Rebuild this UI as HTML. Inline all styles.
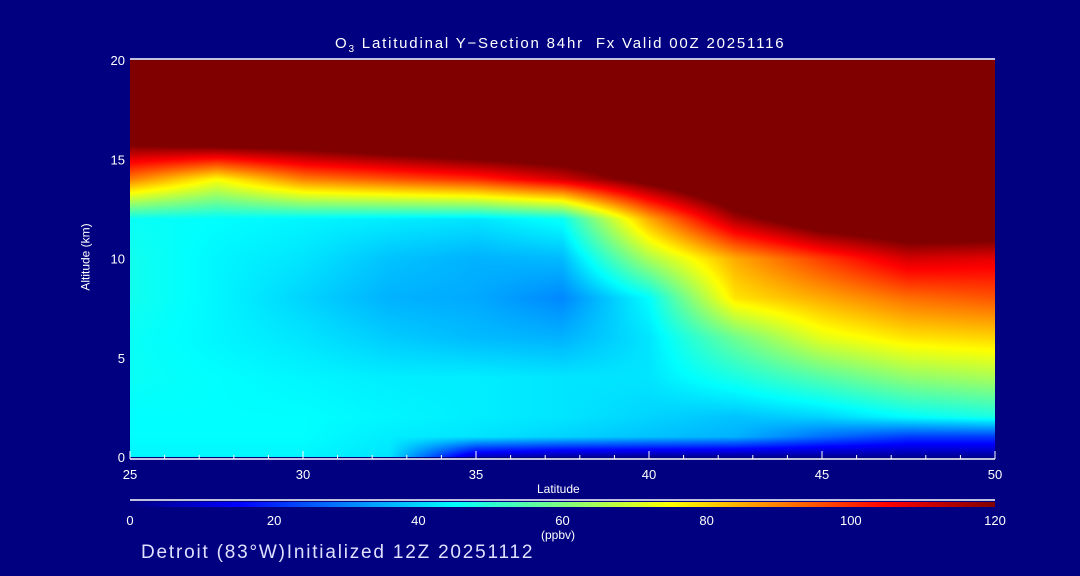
<!DOCTYPE html>
<html><head><meta charset="utf-8"><style>
body{margin:0;background:#000080;width:1080px;height:576px;overflow:hidden;font-family:"Liberation Sans",sans-serif;color:#fff}
.t{position:absolute;white-space:nowrap;font-size:13px;color:#fff}
</style></head><body>
<div class="t" style="left:335px;top:35px;font-size:15px;letter-spacing:1.8px">O<sub style="font-size:10px">3</sub> Latitudinal Y−Section 84hr&nbsp; Fx Valid 00Z 20251116</div>
<canvas id="cv" width="865" height="397" style="position:absolute;left:130px;top:60px"></canvas>
<svg id="ax" width="1080" height="576" style="position:absolute;left:0;top:0"></svg>
<div class="t" style="left:52px;top:250px;transform:rotate(-90deg);font-size:12px">Altitude (km)</div>
<div class="t" style="left:537px;top:482px;font-size:12px">Latitude</div>
<div class="t" style="left:541px;top:528px;font-size:12px">(ppbv)</div>
<div class="t" style="left:141px;top:542px;font-size:19px;color:#e0e0ff;letter-spacing:1.8px">Detroit (83°W)Initialized 12Z 20251112</div>
<script>
const lats=[25,27.5,30,32.5,35,37.5,40,42.5,45,47.5,50];
const alts=[20,18,16,14,12,10,8,6,4,2,1,0];
const o3=[
[140,140,140,140,140,140,140,140,140,140,140],
[140,140,140,140,140,140,140,140,140,140,140],
[125,130,130,135,140,140,140,140,140,140,140],
[90,75,90,95,100,110,125,140,140,140,140],
[46,45,44,43,42,46,85,115,130,135,135],
[47,44,42,38,36,37,65,85,98,110,108],
[47,44,40,36,35,31,45,78,85,92,95],
[46,44,42,39,37,36,42,58,72,78,80],
[46,45,44,43,43,42,42,48,55,62,65],
[45,45,45,44,43,42,40,38,40,45,48],
[45,45,45,43,42,40,38,36,28,22,22],
[44,44,44,42,8,4,3,3,3,3,3]];
const xTicks=[25,30,35,40,45,50];
const yTicks=[0,5,10,15,20];
const cTicks=[0,20,40,60,80,100,120];
const X0=130,X1=995,Y0=457,Y1=60;
const xs=v=>X0+(v-25)/25*(X1-X0);
const ys=v=>Y0-v/20*(Y0-Y1);
function jet(t){t=Math.max(0,Math.min(1,t));
 const f=x=>Math.max(0,Math.min(1,x));
 return [f(Math.min(4*t-1.5,-4*t+4.5)),f(Math.min(4*t-0.5,-4*t+3.5)),f(Math.min(4*t+0.5,-4*t+2.5))].map(c=>Math.round(c*255));}
function interp(arr,v){for(let i=0;i<arr.length-1;i++){const a=arr[i],b=arr[i+1];
 if((v-a)*(v-b)<=0){return i+(v-a)/(b-a);}}return arr.length-1;}
const cv=document.getElementById('cv'),ctx=cv.getContext('2d');
const W=cv.width,H=cv.height,img=ctx.createImageData(W,H);
for(let py=0;py<H;py++){const alt=20-py/(H-1)*20;let fr=interp(alts,alt);let r0=Math.min(Math.floor(fr),alts.length-2),ry=fr-r0;
 for(let px=0;px<W;px++){const lat=25+px/(W-1)*25;let fc=(lat-25)/2.5;let c0=Math.min(Math.floor(fc),lats.length-2),cx=fc-c0;
  const v=(o3[r0][c0]*(1-cx)+o3[r0][c0+1]*cx)*(1-ry)+(o3[r0+1][c0]*(1-cx)+o3[r0+1][c0+1]*cx)*ry;
  const c=jet(v/120);const k=(py*W+px)*4;img.data[k]=c[0];img.data[k+1]=c[1];img.data[k+2]=c[2];img.data[k+3]=255;}}
ctx.putImageData(img,0,0);
const svg=document.getElementById('ax');const NS='http://www.w3.org/2000/svg';
function el(tag,attrs,txt){const e=document.createElementNS(NS,tag);for(const k in attrs)e.setAttribute(k,attrs[k]);if(txt!==undefined)e.textContent=txt;svg.appendChild(e);return e;}
let e;
e=el('line',{x1:X0,y1:Y1-1,x2:X1,y2:Y1-1,stroke:'#fff','stroke-width':1.5});


e=el('line',{x1:X0,y1:Y0+2,x2:X1,y2:Y0+2,stroke:'#fff','stroke-width':1.5});


for(let l=25;l<=50;l++){const maj=(l%5===0);
 e=el('line',{x1:xs(l),y1:Y0+2,x2:xs(l),y2:Y0+2-(maj?8:4),stroke:'#fff','stroke-width':1});
 
 }
xTicks.forEach(v=>{e=el('text',{x:xs(v),y:Y0+22,fill:'#fff','font-size':13,'text-anchor':'middle','font-family':'Liberation Sans'},String(v));
 
 });
yTicks.forEach(v=>{e=el('text',{x:X0-5,y:ys(v)+5,fill:'#fff','font-size':13,'text-anchor':'end','font-family':'Liberation Sans'},String(v));
 
 });
const defs=el('defs',{});const g=document.createElementNS(NS,'linearGradient');g.setAttribute('id','jg');defs.appendChild(g);
for(let i=0;i<=24;i++){const c=jet(i/24);const s=document.createElementNS(NS,'stop');s.setAttribute('offset',(i/24*100)+'%');s.setAttribute('stop-color','rgb('+c.join(',')+')');g.appendChild(s);}
e=el('line',{x1:X0,y1:500,x2:X1,y2:500,stroke:'#fff','stroke-width':1.5});


e=el('rect',{x:X0,y:502,width:X1-X0,height:5,fill:'url(#jg)'});


cTicks.forEach(v=>{e=el('text',{x:X0+v/120*(X1-X0),y:525,fill:'#fff','font-size':13,'text-anchor':'middle','font-family':'Liberation Sans'},String(v));
 
 });
</script>
</body></html>
